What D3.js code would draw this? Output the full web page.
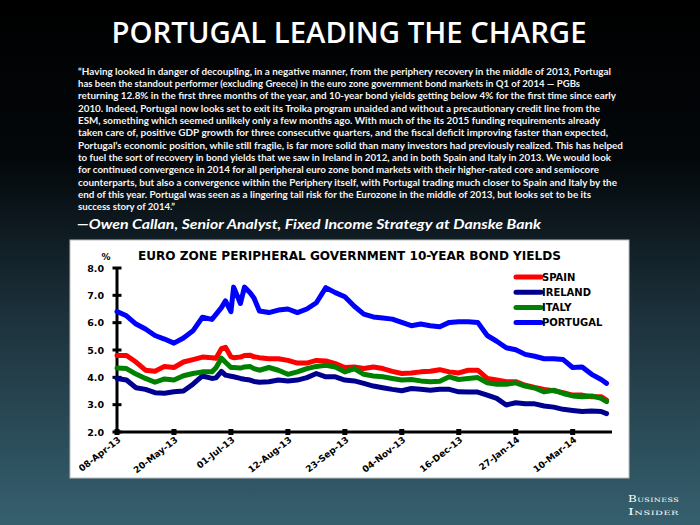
<!DOCTYPE html>
<html><head><meta charset="utf-8">
<script src="https://cdn.jsdelivr.net/npm/d3@7"></script>
<style>html,body{margin:0;padding:0;background:#000;}svg{display:block;}</style>
</head><body>
<svg id="c" width="700" height="525"></svg>
<script>
const dates = ["2013-04-08","2013-04-15","2013-04-22","2013-04-29","2013-05-06","2013-05-13","2013-05-20","2013-05-27","2013-06-03","2013-06-10","2013-06-17","2013-06-20","2013-06-24","2013-06-27","2013-07-01","2013-07-03","2013-07-08","2013-07-11","2013-07-15","2013-07-18","2013-07-22",
"2013-07-29","2013-08-05","2013-08-12","2013-08-19","2013-08-26","2013-09-02","2013-09-09","2013-09-16","2013-09-23","2013-09-30","2013-10-07","2013-10-14","2013-10-21","2013-10-28","2013-11-04","2013-11-11","2013-11-18","2013-11-25","2013-12-02","2013-12-09","2013-12-16","2013-12-23","2013-12-30","2014-01-06","2014-01-13","2014-01-20","2014-01-27","2014-02-03","2014-02-10","2014-02-17","2014-02-24","2014-03-03","2014-03-10","2014-03-17","2014-03-24","2014-03-31","2014-04-04"];
const spain = [4.80,4.80,4.56,4.26,4.22,4.40,4.36,4.56,4.65,4.74,4.72,4.70,5.05,5.10,4.75,4.72,4.74,4.80,4.81,4.75,4.72,
4.68,4.68,4.62,4.52,4.52,4.62,4.60,4.50,4.36,4.38,4.32,4.38,4.32,4.22,4.14,4.16,4.20,4.22,4.28,4.20,4.16,4.26,4.26,3.96,3.90,3.84,3.84,3.71,3.63,3.56,3.51,3.44,3.35,3.35,3.29,3.29,3.17];
const ireland = [3.96,3.90,3.62,3.56,3.44,3.42,3.47,3.50,3.75,4.05,3.96,3.98,4.22,4.08,4.04,4.02,3.96,3.93,3.90,3.85,3.82,
3.84,3.90,3.87,3.90,3.99,4.14,4.02,4.02,3.90,3.87,3.78,3.68,3.62,3.56,3.51,3.59,3.56,3.53,3.56,3.56,3.47,3.46,3.46,3.35,3.23,2.99,3.07,3.03,3.03,2.95,2.91,2.83,2.79,2.75,2.77,2.75,2.67];
const italy = [4.34,4.32,4.12,3.96,3.82,3.94,3.90,4.06,4.14,4.20,4.20,4.35,4.70,4.55,4.36,4.36,4.34,4.38,4.40,4.32,4.26,
4.36,4.26,4.11,4.20,4.32,4.40,4.44,4.38,4.20,4.32,4.11,4.05,4.02,3.96,3.90,3.92,3.87,3.84,3.86,4.02,3.92,3.96,3.99,3.80,3.75,3.75,3.80,3.68,3.61,3.47,3.53,3.41,3.32,3.29,3.32,3.23,3.11];
const portugal = [6.41,6.25,5.95,5.77,5.53,5.40,5.25,5.44,5.70,6.20,6.12,6.30,6.55,6.80,6.40,7.30,6.70,7.30,7.10,6.90,6.43,
6.37,6.46,6.50,6.37,6.50,6.73,7.28,7.10,6.95,6.60,6.31,6.21,6.17,6.13,6.01,5.89,5.95,5.89,5.85,6.01,6.03,6.03,6.01,5.53,5.32,5.08,5.01,4.84,4.77,4.68,4.68,4.65,4.36,4.38,4.11,3.92,3.78];
const seriesNames = ["SPAIN","IRELAND","ITALY","PORTUGAL"];
const seriesColors = ["#ff0000","#000090","#008000","#0000ff"];
const xTickDates = ["2013-04-08","2013-05-20","2013-07-01","2013-08-12","2013-09-23","2013-11-04","2013-12-16","2014-01-27","2014-03-10"];
const xTickLabels = ["08-Apr-13","20-May-13","01-Jul-13","12-Aug-13","23-Sep-13","04-Nov-13","16-Dec-13","27-Jan-14","10-Mar-14"];
const yTicks = [2,3,4,5,6,7,8];
const title = "PORTUGAL LEADING THE CHARGE";
const quoteLines = [
"\u201cHaving looked in danger of decoupling, in a negative manner, from the periphery recovery in the middle of 2013, Portugal",
"has been the standout performer (excluding Greece) in the euro zone government bond markets in Q1 of 2014 \u2014 PGBs",
"returning 12.8% in the first three months of the year, and 10-year bond yields getting below 4% for the first time since early",
"2010. Indeed, Portugal now looks set to exit its Troika program unaided and without a precautionary credit line from the",
"ESM, something which seemed unlikely only a few months ago. With much of the its 2015 funding requirements already",
"taken care of, positive GDP growth for three consecutive quarters, and the fiscal deficit improving faster than expected,",
"Portugal\u2019s economic position, while still fragile, is far more solid than many investors had previously realized. This has helped",
"to fuel the sort of recovery in bond yields that we saw in Ireland in 2012, and in both Spain and Italy in 2013. We would look",
"for continued convergence in 2014 for all peripheral euro zone bond markets with their higher-rated core and semiocore",
"counterparts, but also a convergence within the Periphery itself, with Portugal trading much closer to Spain and Italy by the",
"end of this year. Portugal was seen as a lingering tail risk for the Eurozone in the middle of 2013, but looks set to be its",
"success story of 2014.\u201d"];
const quoteWidths = [533,502,538,522,522,530,545,533,521,539,513,97];
const attribution = "\u2014Owen Callan, Senior Analyst, Fixed Income Strategy at Danske Bank";
const chartTitle = "EURO ZONE PERIPHERAL GOVERNMENT 10-YEAR BOND YIELDS";

const parse = d3.timeParse("%Y-%m-%d");
const svg = d3.select("#c");
const defs = svg.append("defs");
const g = defs.append("linearGradient").attr("id","bg").attr("x1",0).attr("y1",0).attr("x2",0).attr("y2",1);
[[0,"#000000"],[0.3,"#03070a"],[0.6,"#1c313b"],[1,"#36606f"]].forEach(s=>g.append("stop").attr("offset",s[0]).attr("stop-color",s[1]));
svg.append("rect").attr("width",700).attr("height",525).attr("fill","url(#bg)");

svg.append("text").attr("x",349).attr("y",43).attr("text-anchor","middle")
  .attr("font-family","Open Sans").attr("font-weight",600).attr("font-size",28).attr("fill","#fff")
  .attr("textLength",475).attr("lengthAdjust","spacingAndGlyphs").text(title);

quoteLines.forEach((t,i)=>{
  svg.append("text").attr("x",78).attr("y",74.5+i*12.36)
   .attr("font-family","Lato").attr("font-weight",700).attr("font-size",10.2).attr("fill","#f4f4f4")
   .attr("textLength",quoteWidths[i]).attr("lengthAdjust","spacingAndGlyphs").text(t);
});
svg.append("text").attr("x",77).attr("y",229)
  .attr("font-family","Lato").attr("font-weight",700).attr("font-style","italic").attr("font-size",14).attr("fill","#fff")
  .attr("textLength",464).attr("lengthAdjust","spacingAndGlyphs").text(attribution);

// chart panel
svg.append("rect").attr("x",70).attr("y",240).attr("width",559).attr("height",238).attr("fill","#fff").attr("stroke","#bbb").attr("stroke-width",1);
svg.append("text").attr("x",349.5).attr("y",260).attr("text-anchor","middle")
  .attr("font-family","DejaVu Sans").attr("font-weight","bold").attr("font-size",12).attr("fill","#000")
  .attr("textLength",423).attr("lengthAdjust","spacingAndGlyphs").text(chartTitle);

const x = d3.scaleTime().domain([parse("2013-04-08"), parse("2014-04-08")]).range([117,612]);
const y = d3.scaleLinear().domain([2,8]).range([432,268]);

// Y axis
const ya = svg.append("g").attr("transform","translate(117,0)")
  .call(d3.axisLeft(y).tickValues(yTicks).tickFormat(d3.format(".1f")).tickSize(0).tickPadding(13));
ya.select(".domain").remove();
ya.selectAll("text").attr("font-family","DejaVu Sans").attr("font-weight","bold").attr("font-size",9.5).attr("fill","#000");
svg.append("line").attr("x1",117).attr("x2",117).attr("y1",268).attr("y2",432).attr("stroke","#000").attr("stroke-width",3);
svg.selectAll(".ytk").data(yTicks).join("line").attr("class","ytk")
  .attr("x1",112.5).attr("x2",121.5).attr("y1",d=>y(d)).attr("y2",d=>y(d)).attr("stroke","#000").attr("stroke-width",3);
svg.append("text").attr("x",106).attr("y",260).attr("text-anchor","middle").attr("font-family","DejaVu Sans")
  .attr("font-weight","bold").attr("font-size",9).text("%");

// X axis
svg.append("line").attr("x1",117).attr("x2",612).attr("y1",432).attr("y2",432).attr("stroke","#000").attr("stroke-width",3);
const xa = svg.append("g").attr("transform","translate(0,432)")
  .call(d3.axisBottom(x).tickValues(xTickDates.map(parse)).tickFormat((d,i)=>xTickLabels[i]).tickSize(0));
xa.select(".domain").remove();
xa.selectAll("text").attr("font-family","DejaVu Sans").attr("font-weight","bold").attr("font-size",9).attr("fill","#000")
  .attr("text-anchor","end").attr("dy",0).attr("y",0)
  .attr("transform","translate(4,9) rotate(-38)");
svg.selectAll(".xtk").data(xTickDates).join("rect").attr("class","xtk")
  .attr("x",d=>x(parse(d))-2.5).attr("y",429).attr("width",5).attr("height",6).attr("fill","#000");

// lines
const allSeries = [spain, ireland, italy, portugal];
const line = d3.line().x((d,i)=>x(parse(dates[i]))).y(d=>y(d));
allSeries.forEach((s,k)=>{
  svg.append("path").attr("d",line(s)).attr("fill","none").attr("stroke",seriesColors[k])
    .attr("stroke-width",5).attr("stroke-linejoin","round").attr("stroke-linecap","round");
});

// legend
seriesNames.forEach((n,k)=>{
  const ly = 277 + k*15.2;
  svg.append("line").attr("x1",516).attr("x2",541).attr("y1",ly).attr("y2",ly).attr("stroke",seriesColors[k]).attr("stroke-width",5).attr("stroke-linecap","round");
  svg.append("text").attr("x",542).attr("y",ly+3.6).attr("font-family","DejaVu Sans").attr("font-weight","bold")
    .attr("font-size",10).attr("fill","#000").text(n);
});

// logo
const logo = svg.append("g").attr("fill","#fff").attr("font-family","DejaVu Serif");
logo.append("text").attr("x",679).attr("y",502).attr("text-anchor","end").attr("font-size",9).attr("font-variant","small-caps")
  .attr("letter-spacing",0.3).attr("textLength",51).attr("lengthAdjust","spacingAndGlyphs").text("Business");
logo.append("text").attr("x",679).attr("y",514.5).attr("text-anchor","end").attr("font-size",9).attr("font-variant","small-caps")
  .attr("letter-spacing",0.3).attr("textLength",51).attr("lengthAdjust","spacingAndGlyphs").text("Insider");
</script>
</body></html>
